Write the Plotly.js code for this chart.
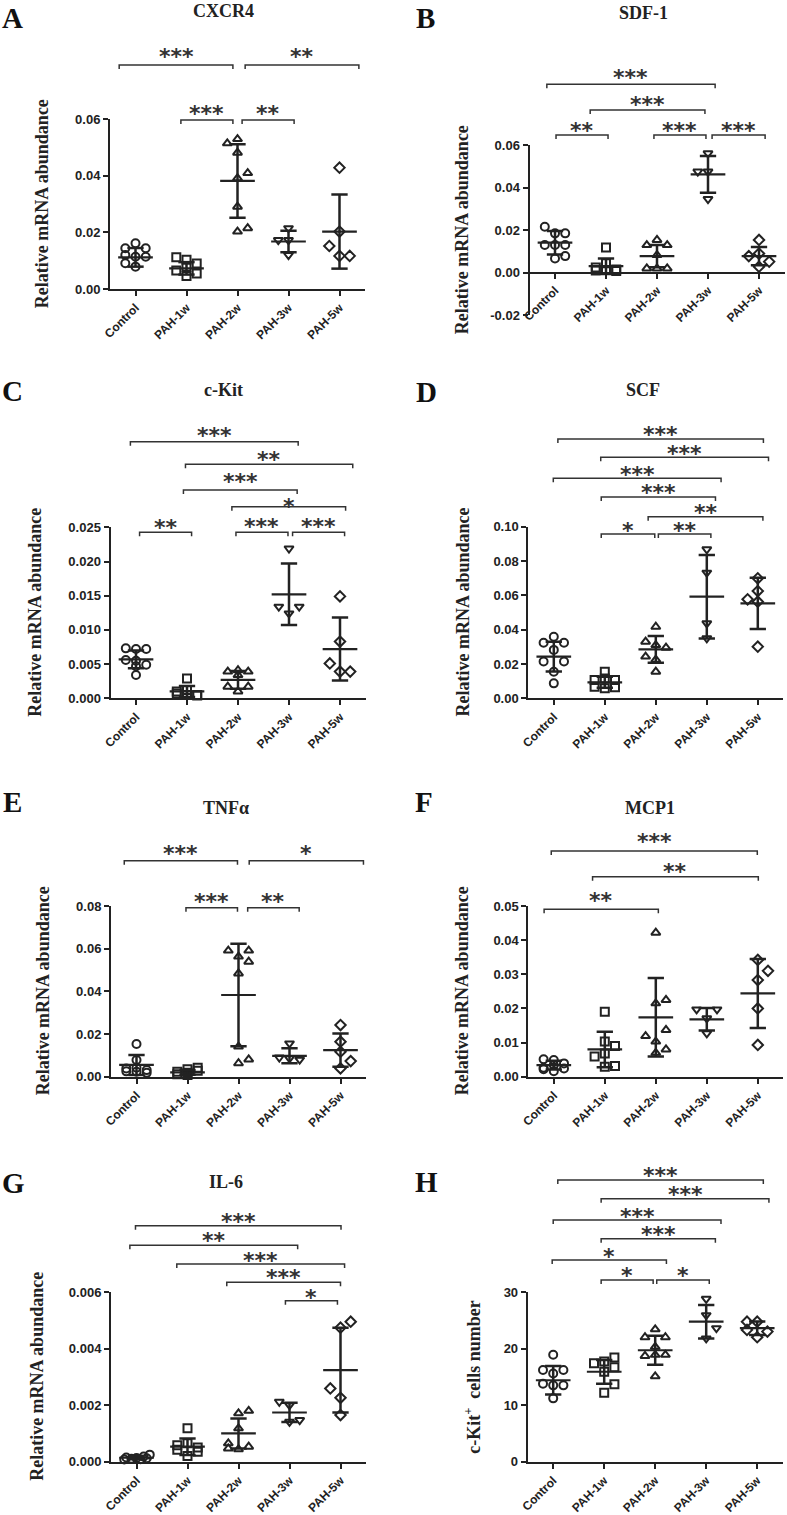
<!DOCTYPE html>
<html><head><meta charset="utf-8">
<script src="https://cdn.plot.ly/plotly-3.0.1.min.js"></script>
<style>html,body{margin:0;padding:0;background:#fff}#chart{width:787px;height:1515px}</style>
</head><body><div id="chart"></div>
<script>
// ---------------- DATA ----------------
const CATEGORIES = ['Control', 'PAH-1w', 'PAH-2w', 'PAH-3w', 'PAH-5w'];
const PANEL_LETTERS = ['A', 'B', 'C', 'D', 'E', 'F', 'G', 'H'];
const PANEL_TITLES = ['CXCR4', 'SDF-1', 'c-Kit', 'SCF', 'TNFα', 'MCP1', 'IL-6', ''];
const Y_TITLES = ['Relative mRNA abundance', 'Relative mRNA abundance', 'Relative mRNA abundance',
  'Relative mRNA abundance', 'Relative mRNA abundance', 'Relative mRNA abundance',
  'Relative mRNA abundance', 'c-Kit<sup>+</sup>  cells number'];

// Panel A: CXCR4
const CXCR4_VALUES = [
  [0.0162, 0.0144, 0.0144, 0.0120, 0.0114, 0.0114, 0.0091, 0.0079],
  [0.0112, 0.0103, 0.0090, 0.0079, 0.0065, 0.0055, 0.0046],
  [0.0530, 0.0515, 0.0482, 0.0410, 0.0392, 0.0291, 0.0215, 0.0203],
  [0.0215, 0.0173, 0.0173, 0.0120],
  [0.0429, 0.0203, 0.0152, 0.0117, 0.0117]];
const CXCR4_MEAN = [0.0112, 0.0073, 0.0382, 0.0168, 0.0203];
const CXCR4_SD = [0.0033, 0.0022, 0.0130, 0.0038, 0.0131];

// Panel B: SDF-1
const SDF1_VALUES = [
  [0.0216, 0.0185, 0.0185, 0.0130, 0.0130, 0.0130, 0.0078, 0.0067],
  [0.0119, 0.0045, 0.0025, 0.0015, 0.0012, 0.0010, 0.0008],
  [0.0154, 0.0130, 0.0130, 0.0083, 0.0020, 0.0020, 0.0020],
  [0.0561, 0.0475, 0.0475, 0.0346],
  [0.0154, 0.0090, 0.0078, 0.0052, 0.0028]];
const SDF1_MEAN = [0.0141, 0.0031, 0.0078, 0.0462, 0.0078];
const SDF1_SD = [0.0055, 0.0036, 0.0052, 0.0086, 0.0043];

// Panel C: c-Kit
const CKIT_VALUES = [
  [0.0073, 0.0072, 0.0072, 0.0056, 0.0055, 0.0049, 0.0047, 0.0034],
  [0.0029, 0.0012, 0.0010, 0.0007, 0.0005, 0.0005, 0.0004],
  [0.0041, 0.0039, 0.0039, 0.0034, 0.0017, 0.0017, 0.0010],
  [0.0219, 0.0134, 0.0134, 0.0124],
  [0.0149, 0.0083, 0.0051, 0.0039, 0.0039]];
const CKIT_MEAN = [0.0057, 0.0010, 0.0027, 0.0152, 0.0072];
const CKIT_SD = [0.0013, 0.0008, 0.0013, 0.0045, 0.0046];

// Panel D: SCF
const SCF_VALUES = [
  [0.0359, 0.0324, 0.0324, 0.0282, 0.0214, 0.0214, 0.0155, 0.0087],
  [0.0155, 0.0116, 0.0107, 0.0107, 0.0068, 0.0064, 0.0058],
  [0.0417, 0.0330, 0.0310, 0.0295, 0.0243, 0.0225, 0.0155],
  [0.0868, 0.0732, 0.0437, 0.0350],
  [0.0699, 0.0625, 0.0577, 0.0563, 0.0301]];
const SCF_MEAN = [0.0243, 0.0093, 0.0285, 0.0592, 0.0553];
const SCF_SD = [0.0087, 0.0032, 0.0078, 0.0243, 0.0149];

// Panel E: TNFα
const TNFA_VALUES = [
  [0.0153, 0.0078, 0.0042, 0.0039, 0.0031, 0.0025, 0.0023, 0.0018],
  [0.0042, 0.0035, 0.0028, 0.0023, 0.0018, 0.0012, 0.0008],
  [0.0591, 0.0591, 0.0563, 0.0539, 0.0484, 0.0141, 0.0081, 0.0063],
  [0.0156, 0.0090, 0.0086, 0.0080],
  [0.0242, 0.0164, 0.0117, 0.0073, 0.0039]];
const TNFA_MEAN = [0.0055, 0.0020, 0.0383, 0.0098, 0.0125];
const TNFA_SD = [0.0047, 0.0011, 0.0240, 0.0035, 0.0078];

// Panel F: MCP1
const MCP1_VALUES = [
  [0.0051, 0.0049, 0.0039, 0.0034, 0.0026, 0.0024, 0.0022, 0.0016],
  [0.0190, 0.0103, 0.0090, 0.0068, 0.0059, 0.0031, 0.0029],
  [0.0422, 0.0225, 0.0215, 0.0137, 0.0119, 0.0103, 0.0080, 0.0070],
  [0.0197, 0.0197, 0.0171, 0.0127],
  [0.0342, 0.0310, 0.0283, 0.0200, 0.0093]];
const MCP1_MEAN = [0.0034, 0.0080, 0.0174, 0.0168, 0.0244];
const MCP1_SD = [0.0013, 0.0052, 0.0115, 0.0033, 0.0101];

// Panel G: IL-6
const IL6_VALUES = [
  [0.00025, 0.00018, 0.00015, 0.00013, 0.00012, 0.00010, 0.00009, 0.00008],
  [0.00118, 0.00065, 0.00058, 0.00050, 0.00042, 0.00035, 0.00020],
  [0.00180, 0.00171, 0.00118, 0.00065, 0.00053, 0.00047, 0.00044],
  [0.00212, 0.00200, 0.00147, 0.00141],
  [0.00495, 0.00474, 0.00259, 0.00226, 0.00165]];
const IL6_MEAN = [0.00014, 0.00053, 0.00100, 0.00174, 0.00324];
const IL6_SD = [0.00005, 0.00029, 0.00053, 0.00034, 0.00150];

// Panel H: c-Kit+ cells number
const CELLS_VALUES = [
  [18.9, 16.2, 16.2, 15.6, 13.8, 13.5, 13.5, 11.2],
  [18.4, 17.7, 17.4, 16.7, 15.9, 13.7, 12.2],
  [23.4, 22.0, 22.0, 20.3, 18.9, 18.9, 18.7, 15.1],
  [28.8, 25.9, 23.6, 21.8],
  [24.75, 24.75, 23.3, 23.0, 22.0]];
const CELLS_MEAN = [14.4, 15.9, 19.7, 24.75, 23.6];
const CELLS_SD = [2.5, 2.1, 2.55, 2.95, 1.2];

// Y-axis ticks
const Y_TICK_VALUES = [
  [0, 0.02, 0.04, 0.06],
  [-0.02, 0, 0.02, 0.04, 0.06],
  [0, 0.005, 0.010, 0.015, 0.020, 0.025],
  [0, 0.02, 0.04, 0.06, 0.08, 0.10],
  [0, 0.02, 0.04, 0.06, 0.08],
  [0, 0.01, 0.02, 0.03, 0.04, 0.05],
  [0, 0.002, 0.004, 0.006],
  [0, 10, 20, 30]];
const Y_TICK_TEXT = [
  ['0.00', '0.02', '0.04', '0.06'],
  ['-0.02', '0.00', '0.02', '0.04', '0.06'],
  ['0.000', '0.005', '0.010', '0.015', '0.020', '0.025'],
  ['0.00', '0.02', '0.04', '0.06', '0.08', '0.10'],
  ['0.00', '0.02', '0.04', '0.06', '0.08'],
  ['0.00', '0.01', '0.02', '0.03', '0.04', '0.05'],
  ['0.000', '0.002', '0.004', '0.006'],
  ['0', '10', '20', '30']];

// Significance labels (comparisons)
const SIG_A = ['***', '**', '***', '**'];
const SIG_B = ['***', '***', '**', '***', '***'];
const SIG_C = ['***', '**', '***', '*', '**', '***', '***'];
const SIG_D = ['***', '***', '***', '***', '**', '*', '**'];
const SIG_E = ['***', '*', '***', '**'];
const SIG_F = ['***', '**', '**'];
const SIG_G = ['***', '**', '***', '***', '*'];
const SIG_H = ['***', '***', '***', '***', '*', '*', '*'];

// ---------------- LAYOUT / STYLE ----------------
const W = 787, H = 1515;
const INK = '#222';
const SYMBOLS = ['circle-open', 'square-open', 'triangle-up-open', 'triangle-down-open', 'diamond-open'];
// horizontal jitter columns of points (units of JITTER_STEP categories)
const JITTER_STEP = 0.2;
const JITTER = {
  A: [[0, -1, 1, -1, 0, 1, -1, 0], [-1, 0, 1, 0, -1, 1, 0], [0, -1, 0, 1, 0, 0, 1, 0], [0, -1, 0, 0], [0, 0, -1, 0, 1]],
  B: [[-1, 0, 1, -1, 0, 1, 1, 0], [0, 0, -1, 1, 0, -1, 1], [0, -1, 1, 0, -1, 0, 1], [0, -1, 0, 0], [0, 0, -1, 1, 0]],
  C: [[-1, 0, 1, -1, 0, 1, 0, 0], [0, 0, -1, -1, 0, 1, 1], [0, -1, 1, 0, -1, 1, 0], [0, -1, 1, 0], [0, 0, -1, 0, 1]],
  D: [[0, -1, 1, 0, -1, 1, 0, 0], [0, 0, -1, 1, -1, 1, 0], [0, -1, 0, 1, -1, 0, 0], [0, 0, 0, 0], [0, 0, -1, 0, 0]],
  E: [[0, 0, 0, -1, 1, -1, 0, 1], [1, 0, 1, -1, 0, -1, 0], [-1, 1, 0, 1, 0, 0, 1, 0], [0, -1, 0, 1], [0, 0, 0, 1, 0]],
  F: [[-1, 0, 1, 0, -1, 1, -1, 0], [0, 0, 1, 0, -1, 1, 0], [0, 1, 0, 1, -1, 0, 1, 0], [-1, 1, 0, 0], [0, 1, 0, 0, 0]],
  G: [[1.3, 0.7, -1, 0, 1, -0.5, 0.4, -1.2], [0, 0, -1, 1, -1, 1, 0], [1, 0, 0, -1, 1, -1, 0], [-1, 0, 1, 0], [1, 0, -1, 0, 0]],
  H: [[0, -1, 1, 0, -1, 0, 1, 0], [1, 0, -1, 1, 0, 1, 0], [0, -1, 1, 0, 0, 1, -1, 0], [0, 0, 1, 0], [-1, 0, -1, 1, 0]]
};
// plot areas in pixels: [left, right, top, bottom]
const BOXES = [
  [110, 365, 119.3, 289], [529.5, 784.5, 145, 315.3],
  [110.5, 365.5, 527.3, 698.3], [528.3, 783.3, 526.7, 698.3],
  [111, 366, 906, 1076.7], [528.3, 783.3, 906, 1076.7],
  [111, 366, 1292, 1461.7], [527.7, 782.7, 1292, 1461.7]];
const Y_RANGES = [[0, 0.06], [-0.02, 0.06], [0, 0.025], [0, 0.10], [0, 0.08], [0, 0.05], [0, 0.006], [0, 30]];
// bracket geometry: [x0 (category units), x1, line y px, star centre y px]
const BRACKET_GEOM = {
  A: [[-0.32, 1.91, 65, 51.7], [2.15, 4.38, 65, 51.7], [0.89, 1.91, 120, 108.3], [2.09, 3.11, 120, 108.3]],
  B: [[-0.16, 3.14, 84.3, 72.3], [0.69, 2.94, 110, 99], [0.02, 1.04, 135, 126], [1.94, 2.96, 135, 126], [3.08, 4.12, 135, 126]],
  C: [[-0.11, 3.18, 441.7, 430.7], [0.97, 4.25, 464.3, 454], [0.93, 3.16, 490, 476], [1.88, 4.11, 506.7, 501],
      [0.07, 1.09, 532.3, 522.7], [1.96, 2.98, 532.3, 521], [3.07, 4.09, 532.3, 521]],
  D: [[0.08, 4.11, 439, 429], [0.92, 4.21, 457.3, 448.3], [-0.01, 3.28, 478.3, 469], [0.93, 3.17, 497, 487.7],
      [1.85, 4.10, 516.7, 507.7], [0.93, 1.98, 534, 525], [2.05, 3.08, 534, 525]],
  E: [[-0.24, 1.98, 860.7, 848.3], [2.21, 4.45, 860.7, 848.3], [0.97, 1.98, 907.7, 896.7], [2.18, 3.19, 907.7, 896.7]],
  F: [[-0.05, 3.99, 851, 836.7], [0.76, 4.01, 876.7, 866.7], [-0.19, 2.05, 909.3, 895.3]],
  G: [[-0.02, 4.01, 1225.7, 1216], [-0.13, 3.16, 1245.3, 1235.7], [0.79, 4.08, 1264, 1255.3], [1.77, 4.0, 1282.3, 1272.7], [2.92, 3.94, 1300.7, 1292.7]],
  H: [[0.09, 4.12, 1180, 1170.7], [0.94, 4.23, 1198.7, 1189.3], [0.0, 3.29, 1220, 1211], [0.94, 3.18, 1238.7, 1229.3],
      [-0.02, 2.22, 1260, 1251.7], [0.94, 1.96, 1280, 1270], [2.03, 3.06, 1280, 1270]]
};
// letter positions: [x centre, y, anchor]
const LETTER_POS = [[12, 0, 'top'], [425, 0, 'top'], [12, 391, 'middle'], [426, 392, 'middle'],
  [12, 802, 'middle'], [424, 802, 'middle'], [13, 1183, 'middle'], [426, 1182, 'middle']];
const TITLE_POS = [[223, 11], [643, 13], [223, 390], [643, 390], [226, 808], [650, 808], [226, 1182], [0, 0]];
const YTITLE_X = [42, 462, 35, 462, 43, 462, 37, 473];
const YTITLE_SIZE = 18;

const PANELS = [
  {key: 'A', values: CXCR4_VALUES, mean: CXCR4_MEAN, sd: CXCR4_SD, sig: SIG_A},
  {key: 'B', values: SDF1_VALUES, mean: SDF1_MEAN, sd: SDF1_SD, sig: SIG_B},
  {key: 'C', values: CKIT_VALUES, mean: CKIT_MEAN, sd: CKIT_SD, sig: SIG_C},
  {key: 'D', values: SCF_VALUES, mean: SCF_MEAN, sd: SCF_SD, sig: SIG_D},
  {key: 'E', values: TNFA_VALUES, mean: TNFA_MEAN, sd: TNFA_SD, sig: SIG_E},
  {key: 'F', values: MCP1_VALUES, mean: MCP1_MEAN, sd: MCP1_SD, sig: SIG_F},
  {key: 'G', values: IL6_VALUES, mean: IL6_MEAN, sd: IL6_SD, sig: SIG_G},
  {key: 'H', values: CELLS_VALUES, mean: CELLS_MEAN, sd: CELLS_SD, sig: SIG_H}];

const px2x = p => p / W;
const px2y = p => 1 - p / H;
const MEAN_HALF = 0.34, CAP_HALF = 0.16;

const traces = [];
const layout = {
  width: W, height: H, margin: {l: 0, r: 0, t: 0, b: 0},
  paper_bgcolor: '#fff', plot_bgcolor: '#fff', showlegend: false,
  annotations: [], shapes: []
};
const yTickFont = {family: 'Liberation Sans, Arial, sans-serif', size: 13, weight: 'bold', color: INK};
const xTickFont = {family: 'Liberation Sans, Arial, sans-serif', size: 12, weight: 'bold', color: INK};
const serif = 'Liberation Serif, Times New Roman, serif';

PANELS.forEach((p, k) => {
  const n = k === 0 ? '' : String(k + 1);
  const xa = 'x' + n, ya = 'y' + n;
  const box = BOXES[k];
  const yr = Y_RANGES[k];
  const yDom = [px2y(box[3]), px2y(box[2])];
  const xaxis = {
    domain: [px2x(box[0]), px2x(box[1])], range: [-0.5, 4.5],
    tickvals: [0, 1, 2, 3, 4], ticktext: CATEGORIES, tickangle: -45,
    ticks: 'outside', ticklen: 5, tickwidth: 2, tickcolor: INK,
    showline: true, linewidth: 2, linecolor: INK, showgrid: false, zeroline: false,
    tickfont: xTickFont, anchor: ya, fixedrange: true
  };
  if (yr[0] < 0) {
    xaxis.anchor = 'free';
    xaxis.position = yDom[0] + (0 - yr[0]) / (yr[1] - yr[0]) * (yDom[1] - yDom[0]);
  }
  layout['xaxis' + n] = xaxis;
  layout['yaxis' + n] = {
    domain: yDom, range: yr, tickvals: Y_TICK_VALUES[k], ticktext: Y_TICK_TEXT[k],
    ticks: 'outside', ticklen: 5, tickwidth: 2, tickcolor: INK,
    showline: true, linewidth: 2, linecolor: INK, showgrid: false, zeroline: false,
    tickfont: yTickFont, anchor: xa, fixedrange: true
  };

  // points
  const px = [], py = [], sym = [];
  p.values.forEach((g, i) => {
    g.forEach((v, j) => {
      px.push(i + JITTER[p.key][i][j] * JITTER_STEP);
      py.push(v);
      sym.push(SYMBOLS[i]);
    });
  });
  traces.push({
    type: 'scatter', mode: 'markers', x: px, y: py, xaxis: xa, yaxis: ya, cliponaxis: false,
    marker: {symbol: sym, size: 8, color: INK, line: {color: INK, width: 2}}, hoverinfo: 'skip'
  });
  // mean lines
  const mx = [], my = [];
  p.mean.forEach((m, i) => { mx.push(i - MEAN_HALF, i + MEAN_HALF, null); my.push(m, m, null); });
  traces.push({type: 'scatter', mode: 'lines', x: mx, y: my, xaxis: xa, yaxis: ya,
    line: {color: INK, width: 2.2}, hoverinfo: 'skip'});
  // SD error bars
  const ex = [], ey = [];
  p.mean.forEach((m, i) => {
    const s = p.sd[i];
    ex.push(i, i, null, i - CAP_HALF, i + CAP_HALF, null, i - CAP_HALF, i + CAP_HALF, null);
    ey.push(m - s, m + s, null, m + s, m + s, null, m - s, m - s, null);
  });
  traces.push({type: 'scatter', mode: 'lines', x: ex, y: ey, xaxis: xa, yaxis: ya,
    line: {color: INK, width: 2.5}, hoverinfo: 'skip'});

  // significance brackets
  BRACKET_GEOM[p.key].forEach((b, j) => {
    const yl = px2y(b[2]), yt = px2y(b[2] + 4);
    layout.shapes.push({
      type: 'path', xref: xa, yref: 'paper',
      path: `M ${b[0]},${yt} L ${b[0]},${yl} L ${b[1]},${yl} L ${b[1]},${yt}`,
      line: {color: '#333', width: 1.5}
    });
    layout.annotations.push({
      xref: xa, yref: 'paper', x: (b[0] + b[1]) / 2, y: px2y(b[3]), yshift: -5,
      xanchor: 'center', yanchor: 'middle', showarrow: false, text: p.sig[j],
      font: {family: 'DejaVu Sans, sans-serif', size: 22, weight: 'bold', color: '#333'}
    });
  });

  // panel letter
  layout.annotations.push({xref: 'paper', yref: 'paper', x: px2x(LETTER_POS[k][0]), y: px2y(LETTER_POS[k][1]),
    xanchor: 'center', yanchor: LETTER_POS[k][2], showarrow: false, text: PANEL_LETTERS[k],
    font: {family: serif, size: 29, weight: 'bold', color: '#111'}});
  // title
  if (PANEL_TITLES[k]) {
    layout.annotations.push({xref: 'paper', yref: 'paper', x: px2x(TITLE_POS[k][0]), y: px2y(TITLE_POS[k][1]),
      xanchor: 'center', yanchor: 'middle', showarrow: false, text: PANEL_TITLES[k],
      font: {family: serif, size: 18, weight: 'bold', color: '#222'}});
  }
  // y-axis title
  layout.annotations.push({xref: 'paper', yref: 'paper', x: px2x(YTITLE_X[k]), y: px2y((box[2] + box[3]) / 2),
    xanchor: 'center', yanchor: 'middle', showarrow: false, textangle: -90, text: Y_TITLES[k],
    font: {family: serif, size: YTITLE_SIZE, weight: 'bold', color: '#222'}});
});

Plotly.newPlot('chart', traces, layout, {staticPlot: true, displayModeBar: false});
</script>
</body></html>
